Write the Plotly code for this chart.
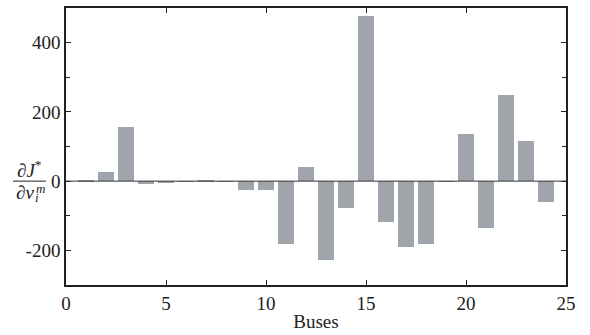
import plotly.graph_objects as go

buses = list(range(1, 25))
values = [4, 27, 155, -9, -6, -2, 3, -2, -25, -26, -183, 40, -228, -77,
          476, -118, -189, -183, -2, 135, -135, 250, 115, -60]

x_ticks = [0, 5, 10, 15, 20, 25]
y_ticks = [-200, 0, 200, 400]
y_tick_text = ["-200", "0", "200", "400"]

FONT = "Liberation Serif, Times New Roman, Times, serif"
AX = "#222222"

fig = go.Figure()
fig.add_trace(go.Bar(x=buses, y=values, width=0.8,
                     marker=dict(color="#9fa5ab", line=dict(width=0))))

fig.update_layout(
    width=590, height=335,
    margin=dict(l=66, r=24, t=6, b=43),
    paper_bgcolor="white", plot_bgcolor="white",
    showlegend=False,
    font=dict(family=FONT, size=19, color="#222222"),
    bargap=0,
)
fig.update_xaxes(
    range=[0, 25], tickvals=x_ticks, ticks="inside", ticklen=5,
    showline=True, linecolor=AX, linewidth=1.5, mirror="ticks",
    tickcolor=AX, showgrid=False, zeroline=False,
    title=dict(text="Buses", standoff=2, font=dict(family=FONT, size=19)),
    tickfont=dict(family=FONT, size=19),
)
fig.update_yaxes(
    range=[-300, 500], tickvals=y_ticks, ticktext=y_tick_text,
    ticks="inside", ticklen=5,
    minor=dict(dtick=100, tick0=0, ticks="inside", ticklen=4, tickcolor=AX, showgrid=False),
    showline=True, linecolor=AX, linewidth=1.5, mirror="ticks",
    tickcolor=AX, showgrid=False,
    zeroline=False,
    tickfont=dict(family=FONT, size=19),
)

# zero reference line drawn above the bars
fig.add_shape(type="line", xref="paper", yref="y", x0=0, x1=1, y0=0, y1=0,
              layer="above", line=dict(color="#333333", width=1))

# fraction y-axis label
fig.add_shape(type="line", xref="paper", yref="y", x0=-0.106, x1=-0.040, y0=0, y1=0,
              line=dict(color="#222222", width=1))
fig.add_annotation(xref="paper", yref="y", x=-0.073, y=34, showarrow=False,
                   text="∂<i>J</i><sup>*</sup>", font=dict(family=FONT, size=19),
                   xanchor="center", yanchor="middle")
fig.add_annotation(xref="paper", yref="y", x=-0.082, y=-32, showarrow=False,
                   text="∂<i>v</i>", font=dict(family=FONT, size=19),
                   xanchor="center", yanchor="middle")
fig.add_annotation(xref="paper", yref="y", x=-0.052, y=-20, showarrow=False,
                   text="<i>m</i>", font=dict(family=FONT, size=13),
                   xanchor="center", yanchor="middle")
fig.add_annotation(xref="paper", yref="y", x=-0.058, y=-48, showarrow=False,
                   text="<i>i</i>", font=dict(family=FONT, size=13),
                   xanchor="center", yanchor="middle")

fig.write_html("out.html", config={"displayModeBar": False},
               post_script="document.body.style.margin='0';")
